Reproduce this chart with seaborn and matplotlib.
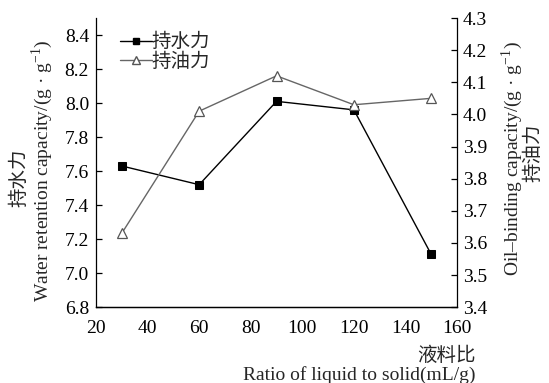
import matplotlib
matplotlib.use("Agg")
import matplotlib.pyplot as plt
import seaborn as sns
import pandas as pd
from matplotlib.lines import Line2D

ratio = [30, 60, 90, 120, 150]
water = [7.63, 7.52, 8.01, 7.96, 7.11]
oil = [3.63, 4.01, 4.12, 4.03, 4.05]
x_ticks = [20, 40, 60, 80, 100, 120, 140, 160]
left_ticks = [6.8, 7.0, 7.2, 7.4, 7.6, 7.8, 8.0, 8.2, 8.4]
right_ticks = [3.4, 3.5, 3.6, 3.7, 3.8, 3.9, 4.0, 4.1, 4.2, 4.3]

sns.set_theme(style="white")
plt.rcParams['font.family'] = ['Liberation Serif', 'Noto Sans CJK SC']
plt.rcParams['mathtext.fontset'] = 'custom'
plt.rcParams['mathtext.rm'] = 'Liberation Serif'

df = pd.DataFrame({"ratio": ratio, "water": water, "oil": oil})

fig = plt.figure(figsize=(5.49, 3.83), dpi=100)
ax = fig.add_axes([0.1749, 0.198, 0.6576, 0.755])
ax2 = ax.twinx()

sns.lineplot(data=df, x="ratio", y="water", ax=ax, color="black", lw=1.0,
             marker="s", markersize=5.5, markerfacecolor="black",
             markeredgecolor="black")
sns.lineplot(data=df, x="ratio", y="oil", ax=ax2, color="#666666", lw=1.0,
             marker="^", markersize=7, markerfacecolor="white",
             markeredgecolor="#555555", markeredgewidth=0.9)

ax.set_xlim(20, 160)
ax.set_ylim(6.8, 8.5)
ax2.set_ylim(3.4, 4.3)
ax.set_xticks(x_ticks)
ax.set_yticks(left_ticks)
ax2.set_yticks(right_ticks)
ax.set_xticklabels([str(t) for t in x_ticks])
ax.set_yticklabels([f"{t:.1f}" for t in left_ticks])
ax2.set_yticklabels([f"{t:.1f}" for t in right_ticks])

for a in (ax, ax2):
    a.spines['top'].set_visible(False)
    for s in ('left', 'right', 'bottom'):
        a.spines[s].set_color('black')
        a.spines[s].set_linewidth(0.9)
    a.tick_params(direction='in', length=4, width=0.9, colors='black',
                  labelsize=14)
ax.tick_params(axis='x', pad=9)
ax.tick_params(axis='y', pad=5)
ax2.tick_params(axis='y', pad=4)
ax2.spines['left'].set_visible(False)
ax.spines['right'].set_visible(False)
ax.set_xlabel("")
ax.set_ylabel("")
ax2.set_ylabel("")

fs = 14
fig.text(0.036, 0.535, "持水力", rotation=90, ha='center', va='center', fontsize=fs)
fig.text(0.077, 0.553, "Water retention capacity/(g · g$^{-1}$)", rotation=90,
         ha='center', va='center', fontsize=fs)
fig.text(0.932, 0.585, "Oil–binding capacity/(g · g$^{-1}$)", rotation=90,
         ha='center', va='center', fontsize=fs)
fig.text(0.972, 0.60, "持油力", rotation=90, ha='center', va='center', fontsize=fs)
fig.text(0.866, 0.072, "液料比", ha='right', va='center', fontsize=fs)
fig.text(0.866, 0.021, "Ratio of liquid to solid(mL/g)", ha='right', va='center', fontsize=fs)

handles = [
    Line2D([], [], color='black', lw=1.0, marker='s', markersize=5,
           markerfacecolor='black'),
    Line2D([], [], color='#666666', lw=1.0, marker='^', markersize=6,
           markerfacecolor='white', markeredgecolor='#555555'),
]
leg = ax.legend(handles, ["持水力", "持油力"], loc='upper left',
                bbox_to_anchor=(0.03, 0.995), frameon=False, fontsize=14,
                handlelength=1.6, handletextpad=0.0, borderpad=0.2,
                labelspacing=0.05)

fig.savefig("out.png", dpi=100)
